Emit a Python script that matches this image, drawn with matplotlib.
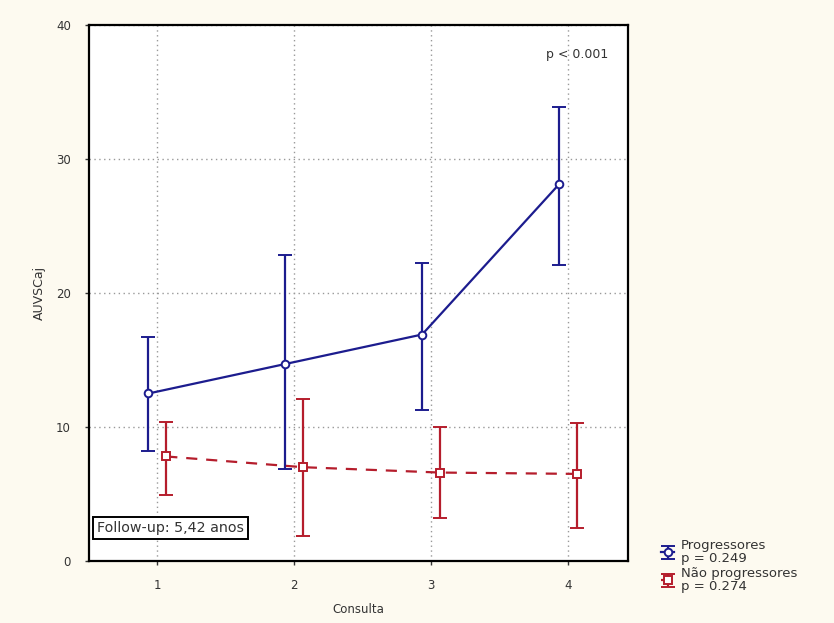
import matplotlib
matplotlib.use("Agg")
import matplotlib.pyplot as plt
import numpy as np

plt.rcParams['font.family'] = ['DejaVu Sans']

consultas = [1, 2, 3, 4]
xtick_labels = ["1", "2", "3", "4"]

prog_mean = [12.5, 14.7, 16.9, 28.1]
prog_upper = [16.7, 22.8, 22.2, 33.9]
prog_lower = [8.2, 6.9, 11.3, 22.1]

nprog_mean = [7.8, 7.0, 6.6, 6.5]
nprog_upper = [10.4, 12.1, 10.0, 10.3]
nprog_lower = [4.9, 1.9, 3.2, 2.5]

label_prog = "Progressores\np = 0.249"
label_nprog = "Não progressores\np = 0.274"

blue = "#1c1c8e"
red = "#b51d2c"
bg = "#fdfaf0"
txt = "#333333"

fig = plt.figure(figsize=(8.34, 6.23), dpi=100, facecolor=bg)
ax = fig.add_axes([0.1067, 0.0995, 0.6463, 0.8605])
ax.set_facecolor("white")

off = 0.065
x = np.array(consultas, dtype=float)

pm = np.array(prog_mean)
pe = [pm - np.array(prog_lower), np.array(prog_upper) - pm]
nm = np.array(nprog_mean)
ne = [nm - np.array(nprog_lower), np.array(nprog_upper) - nm]

h1 = ax.errorbar(x - off, pm, yerr=pe, color=blue, lw=1.6, capsize=5, capthick=1.6,
                 marker='o', ms=5.5, mfc='white', mec=blue, mew=1.4, ls='-', zorder=3,
                 label=label_prog)
h2 = ax.errorbar(x + off, nm, yerr=ne, color=red, lw=1.6, capsize=5, capthick=1.6,
                 marker='s', ms=5.5, mfc='white', mec=red, mew=1.4, ls=(0, (5, 4)), zorder=3,
                 label=label_nprog)

ax.set_xlim(0.5, 4.44)
ax.set_ylim(0, 40)
ax.set_xticks(consultas)
ax.set_xticklabels(xtick_labels)
ax.set_yticks([0, 10, 20, 30, 40])
ax.grid(True, ls=(0, (1, 2.5)), color="#999999", lw=1.0)
ax.set_axisbelow(True)
for s in ax.spines.values():
    s.set_linewidth(1.6)
    s.set_color("black")
ax.tick_params(axis='both', labelsize=8.5, colors=txt, length=3, width=1, pad=10)
ax.tick_params(axis='y', pad=10)

ax.set_xlabel("Consulta", fontsize=8.5, labelpad=8, color=txt)
ax.set_ylabel("AUVSCaj", fontsize=9, labelpad=7, color=txt)

ax.text(4.07, 37.8, "p < 0.001", fontsize=9, ha='center', va='center', color=txt)

ax.text(0.014, 0.062, "Follow-up: 5,42 anos", transform=ax.transAxes, fontsize=10.3,
        ha='left', va='center', color=txt,
        bbox=dict(boxstyle='square,pad=0.28', fc='white', ec='black', lw=1.4))

leg = fig.legend(handles=[h1, h2], labels=[label_prog, label_nprog],
                 loc='upper left', bbox_to_anchor=(0.783, 0.148), frameon=False,
                 prop={'size': 9.5}, handlelength=1.0, handletextpad=0.5, labelspacing=0.1,
                 borderpad=0.1)
for t in leg.get_texts():
    t.set_color(txt)
    t.set_linespacing(1.05)

fig.savefig("out.png", dpi=100, facecolor=bg)
